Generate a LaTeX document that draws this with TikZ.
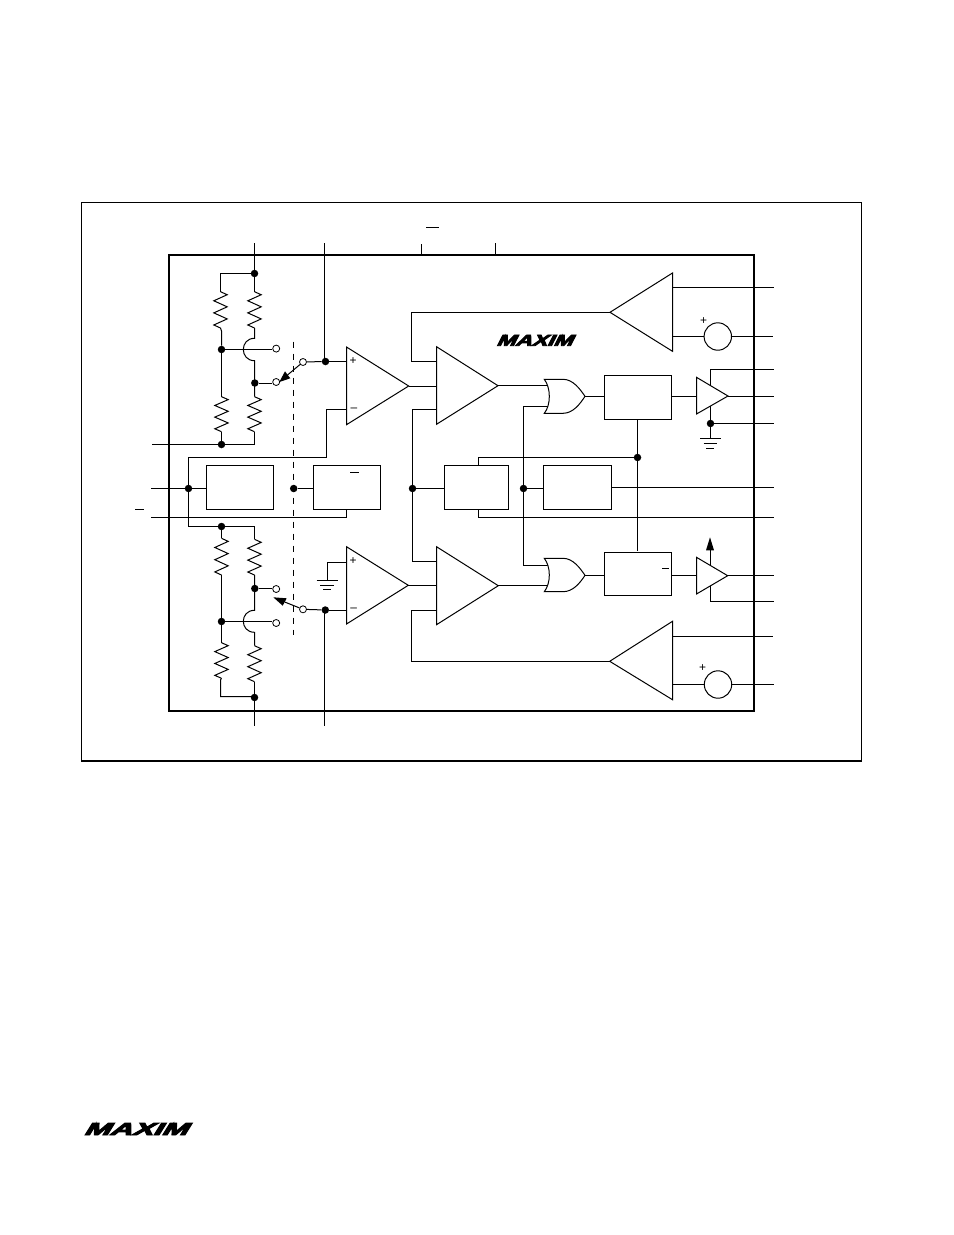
\documentclass[tikz,border=0pt]{standalone}
\usepackage{fontspec}
\usepackage{graphicx}
\usetikzlibrary{arrows.meta}
\setmainfont{Liberation Sans}
\newfontfamily\logofont[FakeBold=5,FakeSlant=0.35]{Liberation Sans Bold}
\tikzset{
  wire/.style={line width=1bp,line cap=butt,line join=miter},
  thinbox/.style={draw,line width=1bp,inner sep=0pt,fill=white},
  dotn/.style={circle,fill=black,draw=none,minimum size=7.5bp,inner sep=0pt},
  opn/.style={circle,fill=white,draw=black,line width=0.8bp,minimum size=7bp,inner sep=0pt},
  src/.style={circle,draw=black,line width=1bp,minimum size=27.4bp,inner sep=0pt,fill=white},
  sym/.style={inner sep=0pt,font=\fontsize{12}{12}\selectfont},
  logo/.style={inner sep=0pt,text=black},
}
\newcommand{\resv}[3]{%
  \pgfmathsetmacro{\hh}{(#3-#2)/12}%
  \pgfmathsetmacro{\ww}{2*\hh}%
  \draw[wire,line join=miter] (#1,#2) -- ++(6.7,\hh) -- ++(-13.4,\ww) -- ++(13.4,\ww) -- ++(-13.4,\ww) -- ++(13.4,\ww) -- ++(-13.4,\ww) -- ++(6.7,\hh);}
\newcommand{\boxn}[5]{% name, x1, y1, x2, y2
  \pgfmathsetmacro{\bw}{#4-#2}\pgfmathsetmacro{\bh}{#5-#3}%
  \node[thinbox,minimum width=\bw bp,minimum height=\bh bp] (#1) at ({(#2+#4)/2},{(#3+#5)/2}) {};}
\begin{document}
\begin{tikzpicture}[x=1bp,y=-1bp]
\useasboundingbox (0,0) rectangle (954,1235);
\fill[white] (0,0) rectangle (954,1235);
% frames
\draw[line width=1bp] (861.5,202.5) -- (81.5,202.5) -- (81.5,761);
\draw[line width=1.6bp,line cap=rect] (81.5,761) -- (861.5,761) -- (861.5,202.5);
\draw[line width=2bp] (169,255) rectangle (754,711);

% named junctions
\node[dotn] (dTop) at (254.5,273.5) {};
\node[dotn] (dUL) at (221.5,349.5) {};
\node[dotn] (dUR) at (254.8,383) {};
\node[dotn] (dLow) at (221.5,444.5) {};
\node[dotn] (dP1) at (325.5,361.5) {};
\node[dotn] (dIn) at (188.5,488.5) {};
\node[dotn] (dMid) at (293.7,488.5) {};
\node[dotn] (dCtl) at (412.5,488.5) {};
\node[dotn] (dLog) at (523.5,488.5) {};
\node[dotn] (dBus) at (637.5,457.5) {};
\node[dotn] (dGnd) at (710.5,423.5) {};
\node[dotn] (dBtop) at (221.5,526.5) {};
\node[dotn] (dBR) at (254.8,588.5) {};
\node[dotn] (dBL) at (221.5,621.5) {};
\node[dotn] (dBot) at (254.5,697.5) {};
\node[dotn] (dP2) at (325.3,610) {};

% boxes
\boxn{bA}{206.5}{465.5}{273.5}{509.5}
\boxn{bB}{313.5}{465.5}{380.5}{509.5}
\boxn{bC}{444.5}{465.5}{508.5}{509.5}
\boxn{bD}{543.5}{465.5}{611.5}{509.5}
\boxn{bE}{604.5}{375.5}{671.5}{419.5}
\boxn{bF}{604.5}{552.5}{671.5}{595.5}

% free ends
\coordinate (pTop1) at (254.5,243);
\coordinate (pTop2) at (324.5,243);
\coordinate (pTop2b) at (324.5,361.5);
\coordinate (pTop3) at (421.5,244);
\coordinate (pTop3b) at (421.5,255);
\coordinate (pTop4) at (495.5,243);
\coordinate (pTop4b) at (495.5,255);
\coordinate (pBot1) at (254.5,726);
\coordinate (pBot2) at (324.5,726);
\coordinate (pBot2b) at (324.5,610);
\coordinate (busE) at (637.5,419.5);
\coordinate (busF) at (637.5,551);

% upper divider
\draw[wire] (pTop1) -- (dTop);
\draw[wire] (pTop2) -- (pTop2b);
\draw[wire] (dTop) -- (220.5,273.5) -- (220.5,291.7);
\resv{220.5}{291.7}{328}
\draw[wire] (220.5,328) -- (221.5,331) -- (dUL);
\draw[wire] (dUL) -- (221.5,396.7);
\resv{221.5}{396.7}{431.7}
\draw[wire] (221.5,431.7) -- (dLow);
\draw[wire] (152,444.5) -- (dLow) -- (254.5,444.5) -- (254.5,431.7);
\resv{254.5}{396.7}{431.7}
\draw[wire] (254.5,396.7) -- (254.5,360.7) .. controls (239.6,360.7) and (239.6,338.3) .. (254.5,338.3) -- (254.5,328);
\resv{254.5}{291.7}{328}
\draw[wire] (254.5,291.7) -- (dTop);
\node[opn] (oU1) at (276.2,348.6) {};
\node[opn] (oU2) at (276.2,382) {};
\node[opn] (oU3) at (303,362) {};
\draw[wire] (dUL) -- (dUL -| oU1.west);
\draw[wire] (dUR) -- (dUR -| oU2.west);
\draw[wire] (oU3) -- (dP1);
\draw[wire] (dP1) -- (346.5,361.5);
\draw[wire] (oU3) -- (287.5,375);
\fill (279.3,382) -- (285,371.3) -- (290.3,378.3) -- cycle;

% op amp 1
\draw[wire] (346.5,347) -- (408.7,386) -- (346.5,424.7) -- cycle;
\node[sym] (plusA) at (353,361) {+};
\node[sym] (minusA) at (354,409.5) {–};
\draw[wire] (346.5,409.5) -- (326.5,409.5) -- (326.5,457.5) -- (188.5,457.5) -- (dIn);
\draw[wire] (dIn) -- (188.5,526.5) -- (dBtop);

% inputs / boxes
\draw[wire] (151,488.5) -- (dIn) -- (dIn -| bA.west);
\draw[wire] (dMid) -- (dMid -| bB.west);
\draw[wire] (151,517.5) -- (346.5,517.5) -- (346.5,509.5);
\draw[line width=1bp] (350,472.5) -- (359.3,472.5);
\draw[line width=1bp] (135,509.5) -- (144,509.5);
\draw[line width=1bp] (426,227.5) -- (438.7,227.5);

% dashed
\draw[wire,dash pattern=on 6.5bp off 5.5bp] (293.5,341.7) -- (293.5,635);

% lower divider
\draw[wire] (dBtop) -- (254.5,526.5) -- (254.5,539.3);
\resv{254.5}{539.3}{575}
\draw[wire] (254.5,575) -- (254.5,610.3) .. controls (239.6,610.3) and (239.6,632.3) .. (254.5,632.3) -- (254.5,645.7);
\resv{254.5}{645.7}{681.7}
\draw[wire] (254.5,681.7) -- (dBot);
\draw[wire] (dBtop) -- (221.5,538.3);
\resv{221.5}{538.3}{575}
\draw[wire] (221.5,575) -- (dBL);
\draw[wire] (dBL) -- (221.5,642.7);
\resv{221.5}{642.7}{678.3}
\draw[wire] (221.5,678.3) -- (220.5,680) -- (220.5,696.5) -- (254.5,696.5);
\draw[wire] (dBot) -- (pBot1);
\node[opn] (oL1) at (276.2,589) {};
\node[opn] (oL2) at (276.2,623) {};
\node[opn] (oL3) at (303,609.3) {};
\draw[wire] (dBR) -- (dBR -| oL1.west);
\draw[wire] (dBL) -- (dBL -| oL2.west);
\draw[wire] (oL3) -- (dP2);
\draw[wire] (dP2) -- (346.5,610);
\draw[wire] (pBot2b) -- (pBot2);
\draw[wire] (oL3) -- (284.7,602);
\fill (273.3,597.3) -- (286.7,598.3) -- (282.7,605.7) -- cycle;

% op amp 2
\draw[wire] (346.5,546.7) -- (408.3,585.3) -- (346.5,624) -- cycle;
\node[sym] (plusB) at (353,560.7) {+};
\node[sym] (minusB) at (353.7,609.5) {–};
\draw[wire] (346.5,562.5) -- (327.5,562.5) -- (327.5,580.5);
\draw[wire] (316.7,580.5) -- (338,580.5);
\draw[wire] (320.3,585.5) -- (334,585.5);
\draw[wire] (323.3,589.5) -- (331.3,589.5);

% main comparators
\draw[wire] (436.5,346.7) -- (498,385.7) -- (436.5,424.3) -- cycle;
\draw[wire] (436.5,546.7) -- (498.3,585.7) -- (436.5,624.7) -- cycle;
\draw[wire] (408.7,386.5) -- (436.5,386.5);
\draw[wire] (408.3,585.5) -- (436.5,585.5);
\draw[wire] (436.5,409.5) -- (412.5,409.5) -- (dCtl);
\draw[wire] (dCtl) -- (412.5,561.5) -- (436.5,561.5);
\draw[wire] (dCtl) -- (dCtl -| bC.west);
\draw[wire] (436.5,361.5) -- (411.5,361.5) -- (411.5,312.5) -- (610,312.5);
\draw[wire] (436.5,610.5) -- (411.5,610.5) -- (411.5,661.5) -- (609.7,661.5);

% top amp
\draw[wire] (672.5,273) -- (610,312.3) -- (672.5,351.3) -- cycle;
\node[src] (srcT) at (717.8,336.5) {};
\draw[wire] (672.5,287.5) -- (774,287.5);
\draw[wire] (672.5,336.5) -- (srcT.west);
\draw[wire] (srcT.east) -- (773,336.5);
\node[sym] (plusT) at (703.7,321) {+};

% bottom amp
\draw[wire] (672.5,621.3) -- (609.7,661.3) -- (672.5,699.7) -- cycle;
\node[src] (srcB) at (718,684.5) {};
\draw[wire] (672.5,636.5) -- (773,636.5);
\draw[wire] (672.5,684.5) -- (srcB.west);
\draw[wire] (srcB.east) -- (774,684.5);
\node[sym] (plusL) at (702.7,667.7) {+};

% top stubs
\draw[wire] (pTop3) -- (pTop3b);
\draw[wire] (pTop4) -- (pTop4b);

% control logic
\draw[wire] (478.5,465.5) -- (478.5,457.5) -- (dBus);
\draw[wire] (478.5,509.5) -- (478.5,517.5) -- (774,517.5);
\draw[wire] (dLog) -- (dLog -| bD.west);
\draw[wire] (611.5,487.5) -- (774,487.5);
\draw[wire] (548.3,406.5) -- (523.5,406.5) -- (dLog);
\draw[wire] (dLog) -- (523.5,565.5) -- (548.3,565.5);
\draw[wire] (498,385.5) -- (548,385.5);
\draw[wire] (498.3,585.5) -- (549,585.5);

% OR gates
\draw[wire,fill=white] (544.3,379.3) -- (563,379.3) .. controls (573,379.3) and (580,389) .. (585,396.3) .. controls (580,404) and (573,413.3) .. (563,413.3) -- (544.3,413.3) .. controls (551,405) and (551,388) .. cycle;
\draw[wire,fill=white] (544.3,558.3) -- (563,558.3) .. controls (573,558.3) and (580,568) .. (585,575.3) .. controls (580,583) and (573,591.7) .. (563,591.7) -- (544.3,591.7) .. controls (551,583) and (551,567) .. cycle;
\draw[wire] (585,396.5) -- (604.5,396.5);
\draw[wire] (585,575.5) -- (604.5,575.5);

% flip-flop links
\draw[wire] (busE) -- (dBus);
\draw[wire] (dBus) -- (busF);
\draw[line width=1bp] (662.3,568.5) -- (668.7,568.5);

% drivers
\draw[wire] (696.5,377.3) -- (728,396) -- (696.5,414) -- cycle;
\draw[wire] (671.5,396.5) -- (696.5,396.5);
\draw[wire] (728,396.5) -- (774,396.5);
\draw[wire] (710.5,385.3) -- (710.5,369.5) -- (774,369.5);
\draw[wire] (710.5,406) -- (dGnd);
\draw[wire] (dGnd) -- (774,423.5);
\draw[wire] (dGnd) -- (710.5,438);
\draw[wire] (700,438.5) -- (720.7,438.5);
\draw[wire] (703.7,443.5) -- (716.7,443.5);
\draw[wire] (706,448.5) -- (714.3,448.5);

\draw[wire] (696.5,557.3) -- (727.7,575.7) -- (696.5,594) -- cycle;
\draw[wire] (671.5,575.5) -- (696.5,575.5);
\draw[wire] (727.7,575.5) -- (774,575.5);
\draw[wire] (710.5,586) -- (710.5,601.5) -- (774,601.5);
\draw[wire] (710,565) -- (710,550);
\fill (710,537.3) -- (714,550.3) -- (706,550.3) -- cycle;

% logos
\node[logo] (logoA) at (534,340.3) {\resizebox{76bp}{10.7bp}{\logofont MAXIM}};
\node[logo] (logoB) at (135,1129) {\resizebox{103.5bp}{12bp}{\logofont MAXIM}};
\end{tikzpicture}
\end{document}
